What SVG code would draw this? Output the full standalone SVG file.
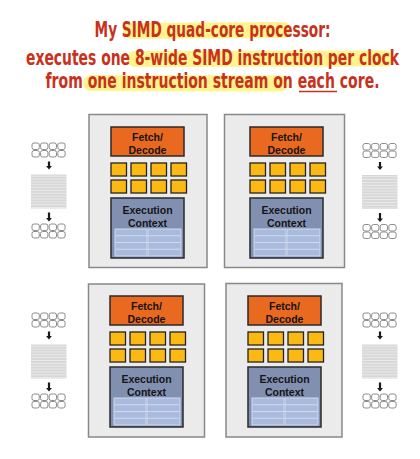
<svg xmlns="http://www.w3.org/2000/svg" xmlns:xlink="http://www.w3.org/1999/xlink" width="420" height="459" viewBox="0 0 420 459">
  <style>
    .title { font-family: "Liberation Sans Narrow", "DejaVu Sans Condensed", "Liberation Sans", sans-serif; font-weight: bold; font-size: 21px; fill: #c8321c; text-anchor: middle; }
    .hl { stroke: #fff27a; stroke-width: 16; stroke-linecap: round; fill: none; opacity: 0.85; }
    .outer { fill: #ebebeb; stroke: #888888; stroke-width: 1.5; }
    .fetch { fill: #e8691f; stroke: #2a2a2a; stroke-width: 1.5; }
    .alu { fill: #fdb913; stroke: #222222; stroke-width: 1.3; }
    .exec { fill: #8190b1; stroke: #2a2a2a; stroke-width: 1.5; }
    .tbl { fill: #a9badd; stroke: #cfdaf0; stroke-width: 1; }
    .lbl { font-family: "Liberation Sans", "DejaVu Sans", sans-serif; font-weight: bold; font-size: 10.5px; fill: #151515; text-anchor: middle; }
    .cell { fill: #ffffff; stroke: #8c8c8c; stroke-width: 1; }
    .blk { fill: url(#stripes); }
    .arr { fill: #1a1a1a; }
  </style>
  <defs>
    <pattern id="stripes" patternUnits="userSpaceOnUse" width="40" height="2.85">
      <rect width="40" height="2.85" fill="#d7d7d7"/>
      <rect y="2.1" width="40" height="0.75" fill="#efefef"/>
    </pattern>
    <g id="grid">
      <rect class="cell" x="0.5" y="0.5" width="7.3" height="6.5" rx="2"/>
      <rect class="cell" x="9.1" y="0.5" width="7.3" height="6.5" rx="2"/>
      <rect class="cell" x="17.7" y="0.5" width="7.3" height="6.5" rx="2"/>
      <rect class="cell" x="26.3" y="0.5" width="7.3" height="6.5" rx="2"/>
      <rect class="cell" x="0.5" y="8" width="7.3" height="6.5" rx="2"/>
      <rect class="cell" x="9.1" y="8" width="7.3" height="6.5" rx="2"/>
      <rect class="cell" x="17.7" y="8" width="7.3" height="6.5" rx="2"/>
      <rect class="cell" x="26.3" y="8" width="7.3" height="6.5" rx="2"/>
    </g>
    <g id="stream">
      <use xlink:href="#grid"/>
      <rect class="blk" x="-0.5" y="32" width="35.5" height="34"/>
      <use xlink:href="#grid" y="81"/>
    </g>
    <g id="streamArrows">
      <path class="arr" d="M16.4,19 h2.2 v4.5 h1.8 l-2.9,3.5 l-2.9,-3.5 h1.8 z"/>
      <path class="arr" d="M16.4,70 h2.2 v5.5 h1.8 l-2.9,3.5 l-2.9,-3.5 h1.8 z"/>
    </g>
    <g id="core">
      <rect class="fetch" x="0" y="0" width="73" height="29"/>
      <text class="lbl" x="36.5" y="13.5">Fetch/</text>
      <text class="lbl" x="36.5" y="26.5">Decode</text>
      <rect class="alu" x="0" y="36" width="15.5" height="13"/>
      <rect class="alu" x="20" y="36" width="15.5" height="13"/>
      <rect class="alu" x="40" y="36" width="15.5" height="13"/>
      <rect class="alu" x="60" y="36" width="15.5" height="13"/>
      <rect class="alu" x="0" y="53" width="15.5" height="13"/>
      <rect class="alu" x="20" y="53" width="15.5" height="13"/>
      <rect class="alu" x="40" y="53" width="15.5" height="13"/>
      <rect class="alu" x="60" y="53" width="15.5" height="13"/>
      <rect class="exec" x="0" y="71" width="73" height="60"/>
      <text class="lbl" x="36.5" y="87">Execution</text>
      <text class="lbl" x="36.5" y="99.5">Context</text>
      <rect class="tbl" x="4" y="102" width="32" height="27"/>
      <rect class="tbl" x="37" y="102" width="33" height="27"/>
      <path d="M4.5,108.75 H69.5 M4.5,115.5 H69.5 M4.5,122.25 H69.5" stroke="#cfdaf0" stroke-width="1" fill="none"/>
    </g>
  </defs>

  <g id="title">
    <path class="hl" d="M131,31 L283,30"/>
    <path class="hl" d="M135,59 L386,58.5"/>
    <path class="hl" d="M91,83 L280,83.5"/>
    <text class="title" x="212.5" y="37" textLength="236" lengthAdjust="spacingAndGlyphs">My SIMD quad-core processor:</text>
    <text class="title" x="212.5" y="64.5" textLength="373" lengthAdjust="spacingAndGlyphs">executes one 8-wide SIMD instruction per clock</text>
    <text class="title" x="212.5" y="88" textLength="334" lengthAdjust="spacingAndGlyphs">from one instruction stream on each core.</text>
    <line x1="299" y1="91.5" x2="337" y2="91.5" stroke="#c8321c" stroke-width="1.5"/>
  </g>

  <g id="core1">
    <rect class="outer" x="89" y="114.5" width="118" height="153"/>
    <use xlink:href="#core" x="111" y="127"/>
  </g>
  <g id="core2">
    <rect class="outer" x="224.5" y="114.5" width="120" height="153"/>
    <use xlink:href="#core" x="250" y="127"/>
  </g>
  <g id="core3">
    <rect class="outer" x="88.5" y="284" width="116" height="153"/>
    <use xlink:href="#core" x="110" y="296"/>
  </g>
  <g id="core4">
    <rect class="outer" x="226" y="283.5" width="116" height="153.5"/>
    <use xlink:href="#core" x="248" y="296"/>
  </g>

  <g id="stream1"><use xlink:href="#stream" x="31.5" y="142.5"/></g>
  <g id="stream2"><use xlink:href="#stream" x="362.5" y="143"/></g>
  <g id="stream3"><use xlink:href="#stream" x="31.5" y="312.5"/></g>
  <g id="stream4"><use xlink:href="#stream" x="362.5" y="312.5"/></g>

  <g id="connectors">
    <use xlink:href="#streamArrows" x="31.5" y="142.5"/>
    <use xlink:href="#streamArrows" x="362.5" y="143"/>
    <use xlink:href="#streamArrows" x="31.5" y="312.5"/>
    <use xlink:href="#streamArrows" x="362.5" y="312.5"/>
  </g>
</svg>
